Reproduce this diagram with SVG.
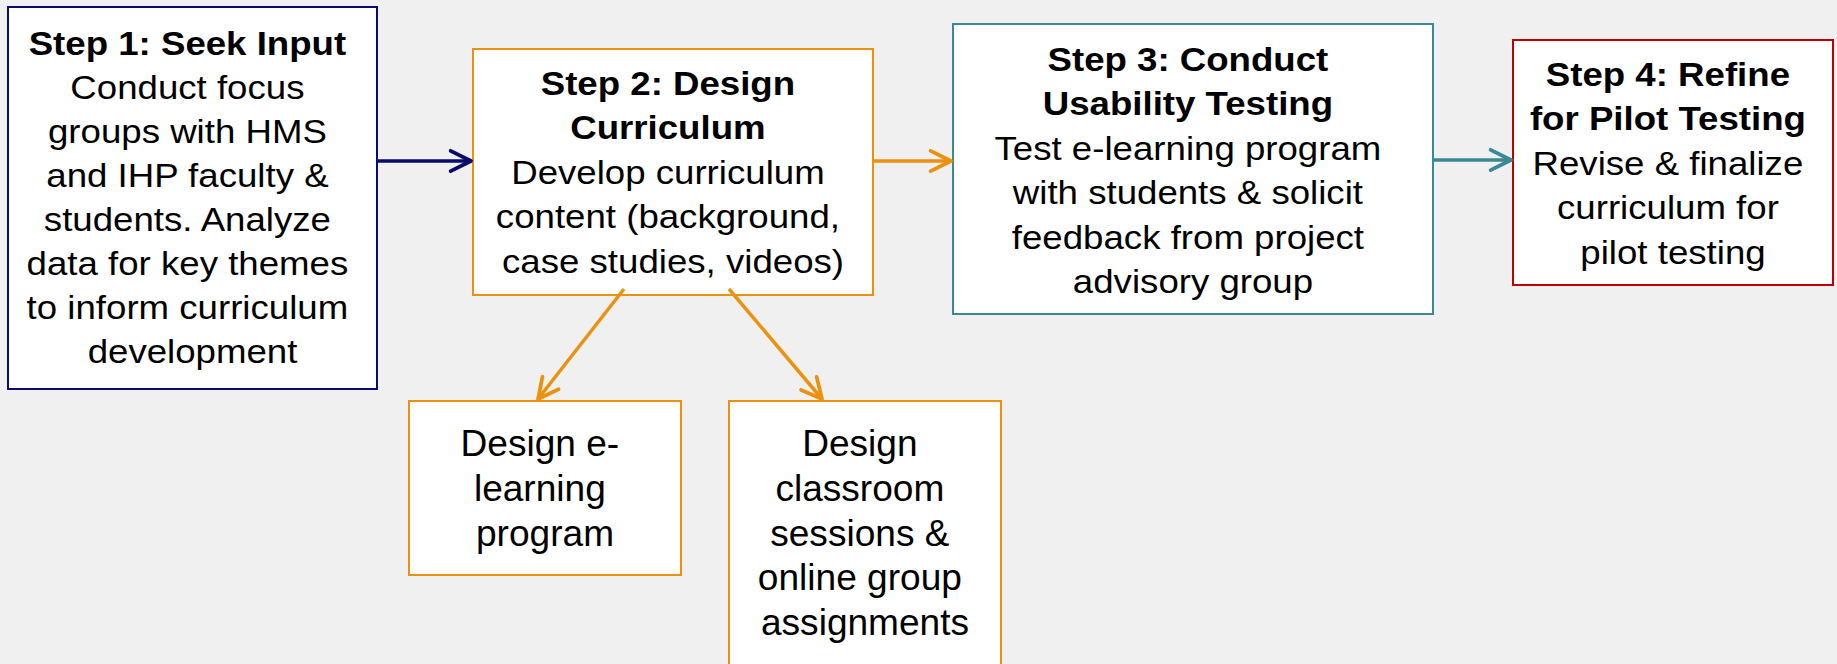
<svg xmlns="http://www.w3.org/2000/svg" width="1837" height="664" viewBox="0 0 1837 664">
  <style>
    .box { fill: #ffffff; stroke-width: 2; }
    .navy { stroke: #0b0b6b; }
    .orange { stroke: #eb9110; }
    .teal { stroke: #3a8a94; }
    .red { stroke: #c00000; }
    .lbl { font-family: "Liberation Sans", Arial, sans-serif; font-size: 33px; fill: #000000; text-anchor: middle; }
    .sub { font-family: "Liberation Sans", Arial, sans-serif; font-size: 36px; fill: #000000; text-anchor: middle; }
    .b { font-weight: bold; }
    .conn { fill: none; stroke-width: 3.5; }
  </style>
  <defs>
    <marker id="headNavy" markerUnits="userSpaceOnUse" markerWidth="30" markerHeight="30" viewBox="-24 -14 28 28" refX="0" refY="0" orient="auto">
      <path d="M-19,-9.5 L0,0 L-19,9.5" fill="none" stroke="#0b0b6b" stroke-width="3.5" stroke-linecap="round" stroke-linejoin="round"/>
    </marker>
    <marker id="headOrange" markerUnits="userSpaceOnUse" markerWidth="30" markerHeight="30" viewBox="-24 -14 28 28" refX="0" refY="0" orient="auto">
      <path d="M-19,-9.5 L0,0 L-19,9.5" fill="none" stroke="#eb9110" stroke-width="3.5" stroke-linecap="round" stroke-linejoin="round"/>
    </marker>
    <marker id="headTeal" markerUnits="userSpaceOnUse" markerWidth="30" markerHeight="30" viewBox="-24 -14 28 28" refX="0" refY="0" orient="auto">
      <path d="M-19,-9.5 L0,0 L-19,9.5" fill="none" stroke="#3a8a94" stroke-width="3.5" stroke-linecap="round" stroke-linejoin="round"/>
    </marker>
  </defs>

  <rect x="0" y="0" width="1837" height="664" fill="#f0f0f0"/>

  <!-- Step 1 -->
  <g id="step1">
    <rect class="box navy" x="8" y="7" width="369" height="382"/>
    <text class="lbl" transform="translate(192.5 0) scale(1.11 1)">
      <tspan class="b" x="0" y="55">Step 1: Seek Input</tspan>
      <tspan x="0" y="99">Conduct focus</tspan>
      <tspan x="0" y="143">groups with HMS</tspan>
      <tspan x="0" y="187">and IHP faculty &amp;</tspan>
      <tspan x="0" y="231">students. Analyze</tspan>
      <tspan x="0" y="275">data for key themes</tspan>
      <tspan x="0" y="319">to inform curriculum</tspan>
      <tspan x="0" y="363">development</tspan>
    </text>
  </g>

  <!-- Step 2 -->
  <g id="step2">
    <rect class="box orange" x="473" y="49" width="400" height="246"/>
    <text class="lbl" transform="translate(673 0) scale(1.11 1)">
      <tspan class="b" x="0" y="95">Step 2: Design</tspan>
      <tspan class="b" x="0" y="139.5">Curriculum</tspan>
      <tspan x="0" y="184">Develop curriculum</tspan>
      <tspan x="0" y="228.5">content (background,</tspan>
      <tspan x="0" y="273">case studies, videos)</tspan>
    </text>
  </g>

  <!-- Step 3 -->
  <g id="step3">
    <rect class="box teal" x="953" y="24" width="480" height="290"/>
    <text class="lbl" transform="translate(1193 0) scale(1.11 1)">
      <tspan class="b" x="0" y="71">Step 3: Conduct</tspan>
      <tspan class="b" x="0" y="115.5">Usability Testing</tspan>
      <tspan x="0" y="160">Test e-learning program</tspan>
      <tspan x="0" y="204.5">with students &amp; solicit</tspan>
      <tspan x="0" y="249">feedback from project</tspan>
      <tspan x="0" y="293.5">advisory group</tspan>
    </text>
  </g>

  <!-- Step 4 -->
  <g id="step4">
    <rect class="box red" x="1513" y="40" width="320" height="245"/>
    <text class="lbl" transform="translate(1673 0) scale(1.11 1)">
      <tspan class="b" x="0" y="86">Step 4: Refine</tspan>
      <tspan class="b" x="0" y="130.5">for Pilot Testing</tspan>
      <tspan x="0" y="175">Revise &amp; finalize</tspan>
      <tspan x="0" y="219.5">curriculum for</tspan>
      <tspan x="0" y="264">pilot testing</tspan>
    </text>
  </g>

  <!-- Sub-task: e-learning -->
  <g id="elearning">
    <rect class="box orange" x="409" y="401" width="272" height="174"/>
    <text class="sub" transform="translate(545 0) scale(1.03 1)">
      <tspan x="0" y="456">Design e-</tspan>
      <tspan x="0" y="501">learning</tspan>
      <tspan x="0" y="546">program</tspan>
    </text>
  </g>

  <!-- Sub-task: classroom -->
  <g id="classroom">
    <rect class="box orange" x="729" y="401" width="272" height="280"/>
    <text class="sub" transform="translate(865 0) scale(1.03 1)">
      <tspan x="0" y="456">Design</tspan>
      <tspan x="0" y="501">classroom</tspan>
      <tspan x="0" y="546">sessions &amp;</tspan>
      <tspan x="0" y="590.5">online group</tspan>
      <tspan x="0" y="635">assignments</tspan>
    </text>
  </g>

  <!-- Connectors -->
  <g id="connectors">
    <line class="conn" x1="377" y1="161" x2="471" y2="161" stroke="#0b0b6b" marker-end="url(#headNavy)"/>
    <line class="conn" x1="873" y1="161" x2="951" y2="161" stroke="#eb9110" marker-end="url(#headOrange)"/>
    <line class="conn" x1="1433" y1="160" x2="1511" y2="160" stroke="#3a8a94" marker-end="url(#headTeal)"/>
    <line class="conn" x1="624" y1="289" x2="538" y2="399" stroke="#eb9110" marker-end="url(#headOrange)"/>
    <line class="conn" x1="729" y1="289" x2="822" y2="399" stroke="#eb9110" marker-end="url(#headOrange)"/>
  </g>
</svg>
